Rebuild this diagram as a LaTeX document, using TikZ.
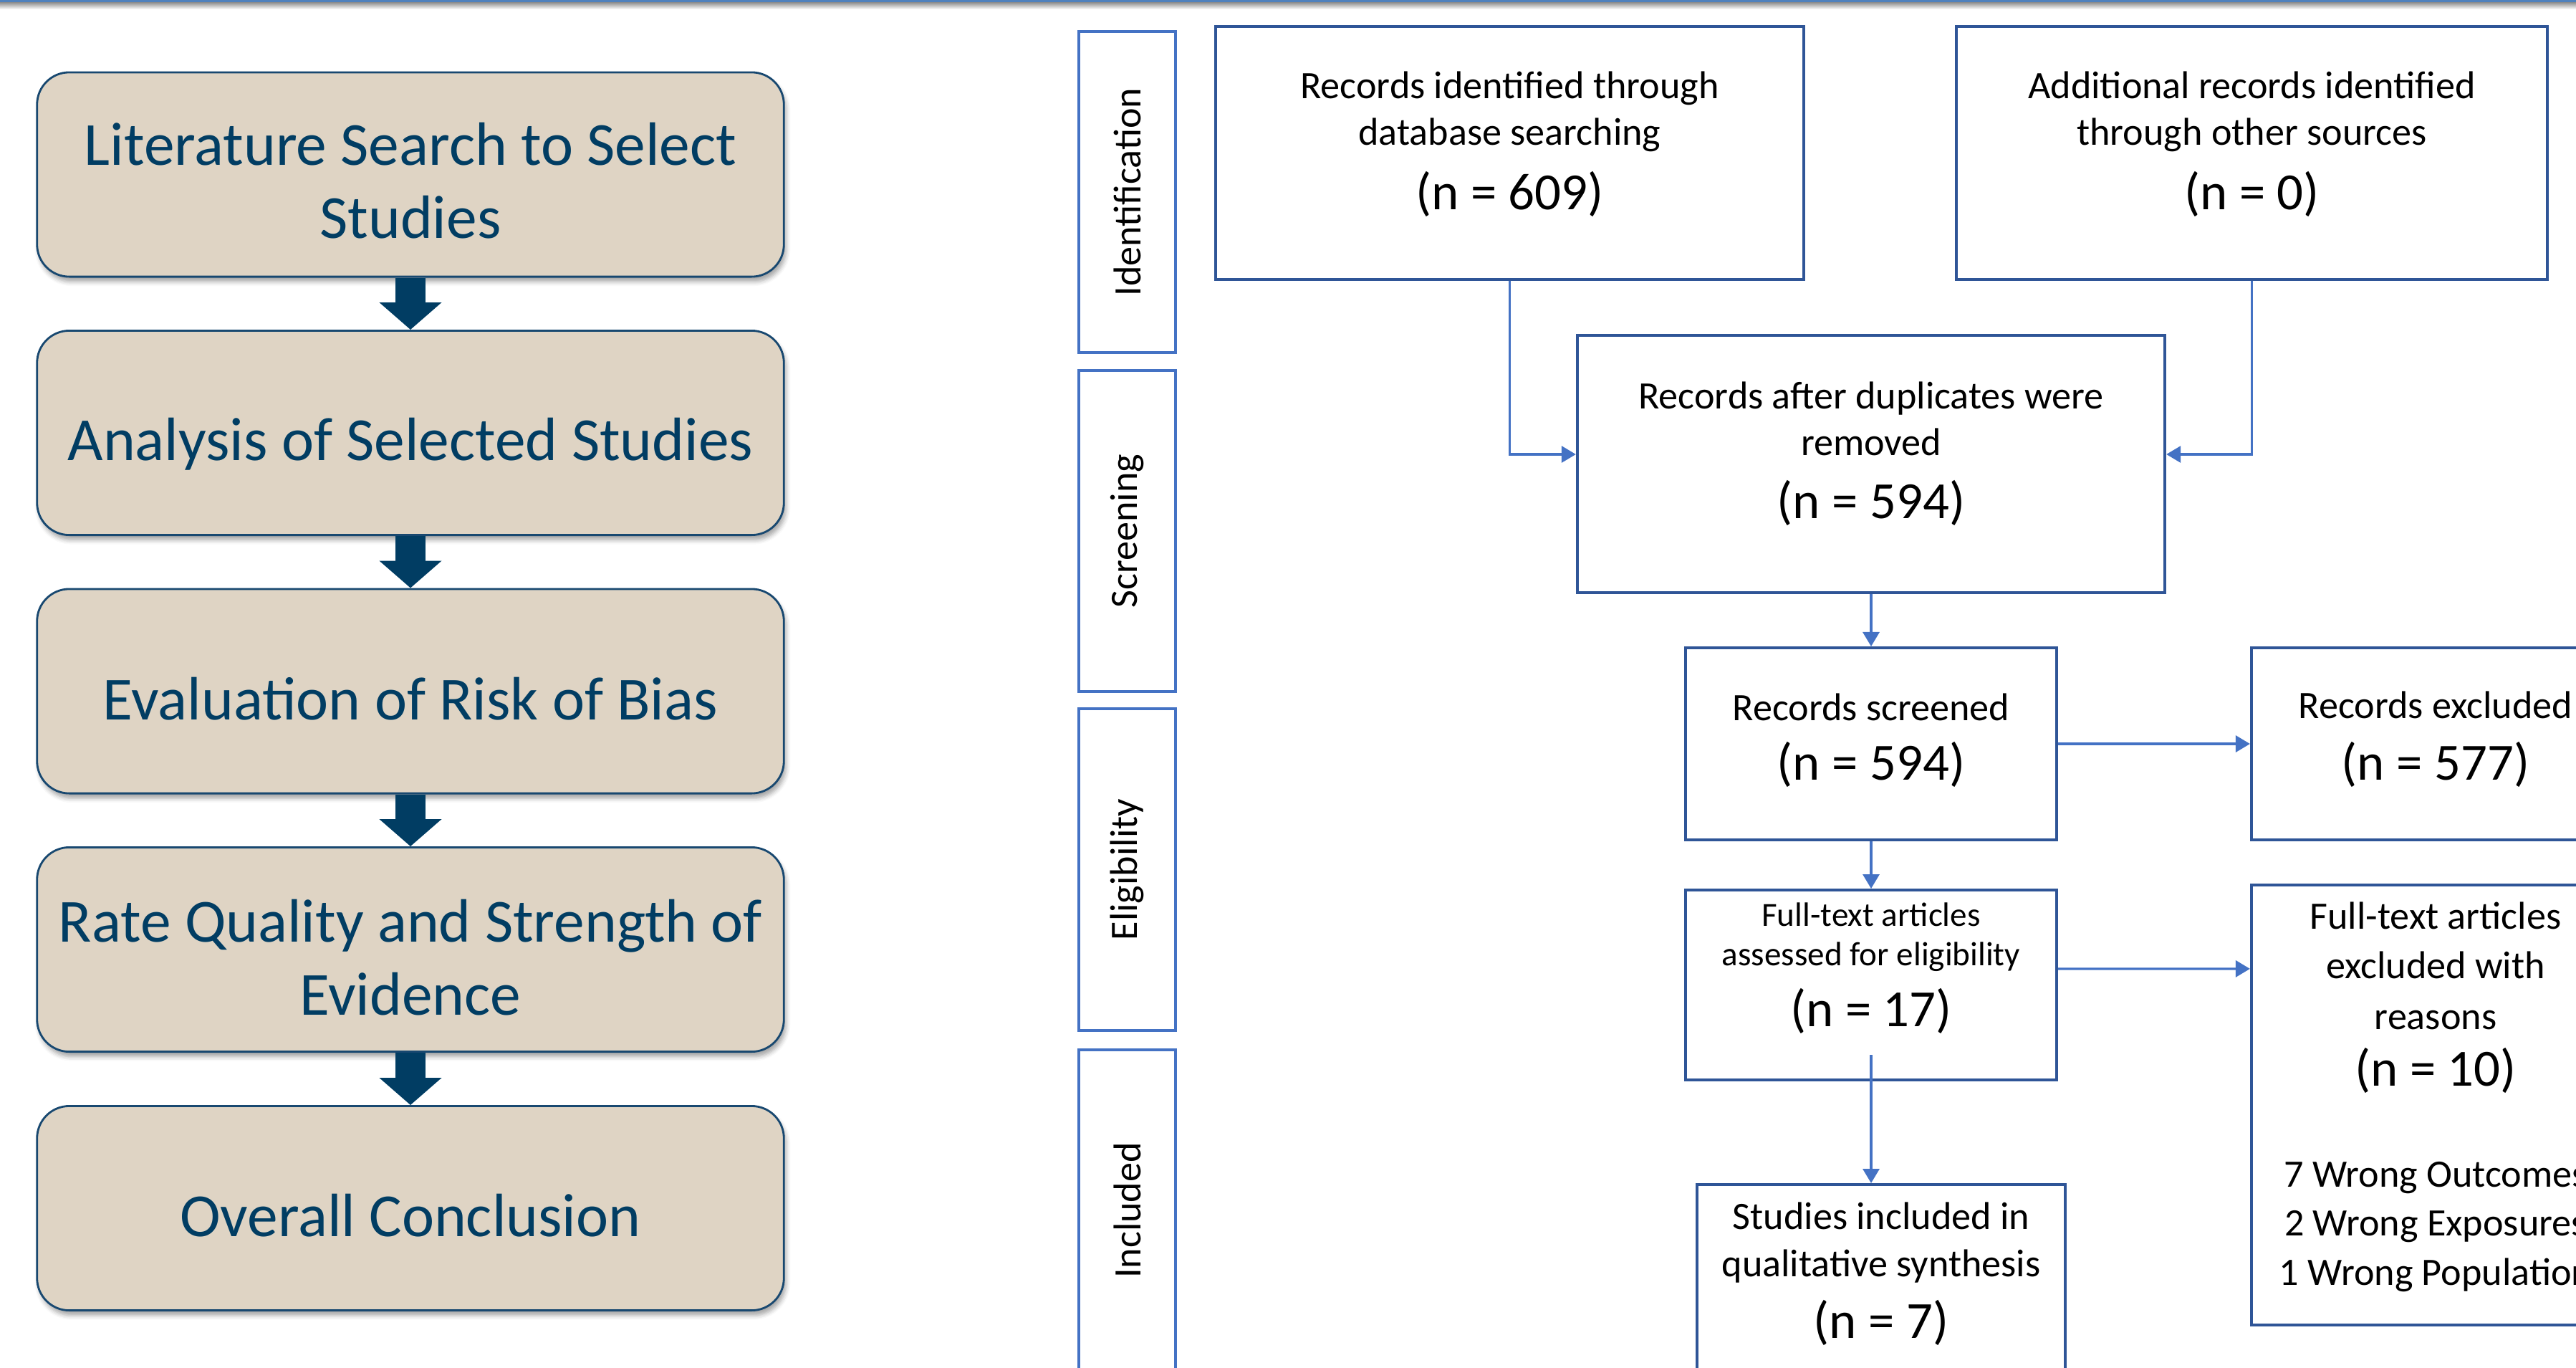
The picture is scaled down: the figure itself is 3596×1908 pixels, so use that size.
\documentclass[tikz,border=0pt]{standalone}
\usepackage{fontspec}
\setmainfont{Carlito}
\usetikzlibrary{positioning, arrows.meta, shadows.blur}

\definecolor{stepfill}{RGB}{223,212,196}
\definecolor{stepline}{RGB}{24,72,112}
\definecolor{steptext}{RGB}{1,61,99}
\definecolor{prismaline}{RGB}{47,85,151}
\definecolor{laneline}{RGB}{68,114,196}
\definecolor{topbar}{RGB}{79,129,189}

\newcommand{\stepfont}{\fontsize{24.3pt}{29pt}\selectfont}
\newcommand{\boxfont}{\fontsize{15.4pt}{18.5pt}\selectfont}
\newcommand{\reasonfont}{\fontsize{15.4pt}{19.5pt}\selectfont}
\newcommand{\smallboxfont}{\fontsize{13.4pt}{15.6pt}\selectfont}
\newcommand{\numfont}{\fontsize{20.7pt}{24.8pt}\selectfont}

\begin{document}
\begin{tikzpicture}[x=0.01cm, y=-0.01cm,
		leftbox/.style={draw=stepline, line width=0.8pt, fill=stepfill, rounded corners=0.45cm,
			minimum width=10.42cm, minimum height=2.85cm, text=steptext, font=\stepfont, align=center,
			blur shadow={shadow xshift=0.03cm, shadow yshift=-0.07cm, shadow blur radius=0.06cm, shadow opacity=35}},
		bigarrow/.style={steptext, line width=0.42cm, -{Triangle[width=0.85cm, length=0.38cm]}},
		lane/.style={draw=laneline, line width=1.1pt, rotate=90, minimum width=4.48cm, minimum height=1.35cm, font=\boxfont},
		prisma/.style={draw=prismaline, line width=1.1pt, fill=white, align=center, font=\boxfont, inner sep=0pt},
		link/.style={laneline, line width=0.9pt, -{Triangle[width=0.23cm, length=0.2cm]}}]
	\useasboundingbox (0,0) rectangle (3596,1908);
	\clip (0,0) rectangle (3596,1908);
	\shade[top color=black!45, bottom color=white] (0,3) rectangle (3596,13);
	\fill[topbar] (0,0) rectangle (3596,3);

	\node[leftbox, text height=1.885cm, text depth=0.115cm] (lit) at (573,243.5) {Literature Search to Select\\Studies};
	\node[leftbox, text height=1.38cm, text depth=0.62cm] (ana) at (573,604) {Analysis of Selected Studies};
	\node[leftbox, text height=1.395cm, text depth=0.605cm] (risk) at (573,964.5) {Evaluation of Risk of Bias};
	\node[leftbox, text height=1.91cm, text depth=0.09cm] (rate) at (573,1325) {Rate Quality and Strength of\\Evidence};
	\node[leftbox, text height=1.39cm, text depth=0.61cm] (concl) at (573,1686) {Overall Conclusion};
	\draw[bigarrow] (lit.south) -- (ana.north);
	\draw[bigarrow] (ana.south) -- (risk.north);
	\draw[bigarrow] (risk.south) -- (rate.north);
	\draw[bigarrow] (rate.south) -- (concl.north);

	\node[lane] (idlane) at (1573.5,268) {Identification};
	\node[lane] (scrlane) at (1573.5,741) {Screening};
	\node[lane] (elilane) at (1573.5,1213.5) {Eligibility};
	\node[lane] (inclane) at (1573.5,1689) {Included};

	\node[prisma, minimum width=8.21cm, minimum height=3.53cm, text height=1.785cm, text depth=0.215cm] (ident) at (2107.5,213.5)
		{Records identified through\\database searching\\[0.24cm]{\numfont (n = 609)}};
	\node[prisma, minimum width=8.25cm, minimum height=3.53cm, text height=1.785cm, text depth=0.215cm] (other) at (3143.5,213.5)
		{Additional records identified\\through other sources\\[0.24cm]{\numfont (n = 0)}};
	\node[prisma, minimum width=8.2cm, minimum height=3.59cm, text height=1.755cm, text depth=0.245cm] (dup) at (2612,647.5)
		{Records after duplicates were\\removed\\[0.22cm]{\numfont (n = 594)}};
	\node[prisma, minimum width=5.18cm, minimum height=2.68cm, text height=1.5cm, text depth=0.5cm] (screened) at (2612,1038)
		{Records screened\\[0.17cm]{\numfont (n = 594)}};
	\node[prisma, minimum width=5.14cm, minimum height=2.68cm, text height=1.5cm, text depth=0.5cm] (excl) at (3400,1038)
		{Records excluded\\[0.2cm]{\numfont (n = 577)}};
	\node[prisma, minimum width=5.18cm, minimum height=2.65cm, font=\smallboxfont, text height=1.575cm, text depth=0.425cm] (fulltext) at (2612,1374.5)
		{Full-text articles\\assessed for eligibility\\[0.2cm]{\numfont (n = 17)}};
	\node[prisma, minimum width=5.14cm, minimum height=6.14cm, font=\reasonfont, text height=5.51cm, text depth=0.49cm] (reasons) at (3400,1542)
		{Full-text articles\\excluded with\\[0.03cm]reasons\\[0.1cm]{\numfont (n = 10)}\\[0.72cm]7 Wrong Outcomes\\2 Wrong Exposures\\1 Wrong Population};
	\node[prisma, minimum width=5.14cm, minimum height=2.68cm, text height=1.8cm, text depth=0.2cm] (studies) at (2626,1787)
		{Studies included in\\qualitative synthesis\\[0.21cm]{\numfont (n = 7)}};

	\draw[link] (ident.south) |- ([yshift=0.135cm]dup.west);
	\draw[link] (other.south) |- ([yshift=0.135cm]dup.east);
	\draw[link] (dup.south) -- (screened.north);
	\draw[link] (screened.east) -- (excl.west);
	\draw[link] (screened.south) -- (fulltext.north);
	\draw[link] ([yshift=0.225cm]fulltext.east) -- ([yshift=1.9cm]reasons.west);
	\draw[link] ([yshift=0.37cm]fulltext.south) -- (fulltext.south |- studies.north);
\end{tikzpicture}
\end{document}
